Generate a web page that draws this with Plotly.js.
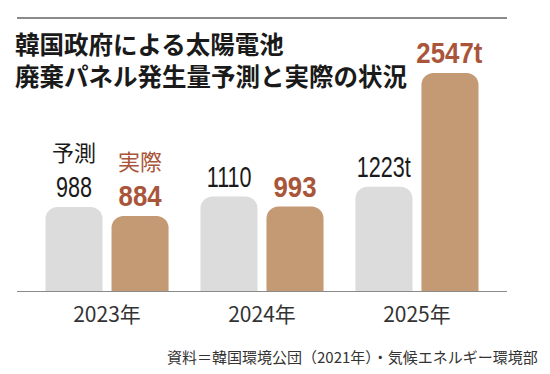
<!DOCTYPE html>
<html>
<head>
<meta charset="utf-8">
<script src="https://cdn.plot.ly/plotly-3.0.1.min.js"></script>
<style>html,body{margin:0;padding:0;background:#fff;}#chart{width:550px;height:374px;}</style>
</head>
<body>
<div id="chart"></div>
<script>
const years = ['2023年', '2024年', '2025年'];
const forecast = [988, 1110, 1223];
const actual = [884, 993, 2547];
const forecastLabels = ['988', '1110', '1223t'];
const actualLabels = ['884', '993', '2547t'];
const seriesNames = ['予測', '実際'];
const titleText = '韓国政府による太陽電池<br>廃棄パネル発生量予測と実際の状況';
const sourceText = '資料＝韓国環境公団（2021年）・気候エネルギー環境部';

const GRAY = '#dcdcdc', BROWN = '#c49a74', BROWN_TXT = '#a9553a', DARK = '#1a1a1a';
const CJK = '"Noto Sans CJK JP", sans-serif';
const NUMFONT = '"Liberation Sans", Arial, sans-serif';

const idx = years.map((_, i) => i);

const traces = [
  {type: 'bar', x: idx, y: forecast, name: seriesNames[0], marker: {color: GRAY, cornerradius: 12}, hoverinfo: 'none'},
  {type: 'bar', x: idx, y: actual, name: seriesNames[1], marker: {color: BROWN, cornerradius: 12}, hoverinfo: 'none'}
];

const OFF = 33;
const annotations = [];
const squeeze = [];   // [annotation index, horizontal scale]
idx.forEach(i => {
  squeeze.push([annotations.length, 0.72]);
  annotations.push({x: i, y: forecast[i], xref: 'x', yref: 'y', xshift: -OFF, yshift: 2, yanchor: 'bottom',
    text: forecastLabels[i], showarrow: false, font: {family: NUMFONT, size: 30, color: DARK}});
  squeeze.push([annotations.length, 0.86]);
  annotations.push({x: i, y: actual[i], xref: 'x', yref: 'y', xshift: OFF, yshift: 2, yanchor: 'bottom',
    text: '<b>' + actualLabels[i] + '</b>', showarrow: false, font: {family: NUMFONT, size: 30, color: BROWN_TXT}});
});
annotations.push({x: 0, y: forecast[0], xref: 'x', yref: 'y', xshift: -OFF, yshift: 38, yanchor: 'bottom',
  text: seriesNames[0], showarrow: false, font: {family: CJK, size: 22, color: DARK}});
annotations.push({x: 0, y: actual[0], xref: 'x', yref: 'y', xshift: OFF, yshift: 38, yanchor: 'bottom',
  text: seriesNames[1], showarrow: false, font: {family: CJK, size: 22, color: BROWN_TXT}});
annotations.push({x: (540 - 17) / 490, y: (292 - 357) / 274, xref: 'paper', yref: 'paper', xanchor: 'right', yanchor: 'middle',
  text: sourceText, showarrow: false, font: {family: CJK, size: 15, color: '#333'}});

const layout = {
  width: 550, height: 374,
  margin: {l: 17, r: 43, t: 18, b: 82},
  paper_bgcolor: '#fff', plot_bgcolor: '#fff',
  showlegend: false,
  barmode: 'group', bargap: 0.148, bargroupgap: 0.136,
  title: {text: '<b>' + titleText + '</b>', font: {family: CJK, size: 24.5, color: '#1a1a1a'},
    xref: 'container', yref: 'container', x: 15 / 550, xanchor: 'left', y: 1 - 54 / 374, yanchor: 'top'},
  xaxis: {tickmode: 'array', tickvals: idx, ticktext: years, range: [-0.581, 2.581],
    showgrid: false, zeroline: false, showline: false, ticks: '', ticklabelstandoff: 8,
    tickfont: {family: CJK, size: 21, color: '#333'}, fixedrange: true},
  yaxis: {range: [0, 274 / 0.086], visible: false, showgrid: false, zeroline: false, fixedrange: true},
  shapes: [
    {type: 'line', xref: 'paper', yref: 'y', x0: 0, x1: 1, y0: 0, y1: 0, line: {color: '#8a8a8a', width: 2}},
    {type: 'line', xref: 'paper', yref: 'paper', x0: 0, x1: 1, y0: 1, y1: 1, line: {color: '#8a8a8a', width: 2}}
  ],
  annotations: annotations
};

Plotly.newPlot('chart', traces, layout, {displayModeBar: false, staticPlot: true}).then(gd => {
  // narrow the number labels to mimic the condensed face of the original
  squeeze.forEach(([k, s]) => {
    const t = gd.querySelector('.annotation[data-index="' + k + '"] text.annotation-text');
    if (t) {
      t.style.transformBox = 'fill-box';
      t.style.transformOrigin = '50% 100%';
      t.style.transform = 'scaleX(' + s + ')';
    }
  });
});
</script>
</body>
</html>
